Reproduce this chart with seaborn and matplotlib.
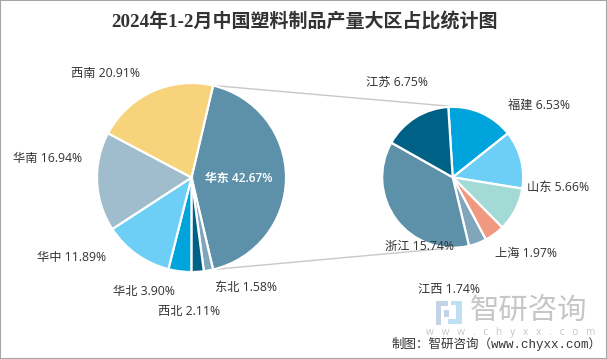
#!/usr/bin/env python3
# -*- coding: utf-8 -*-

import matplotlib
matplotlib.use("Agg")
import matplotlib.pyplot as plt
from matplotlib.patches import ConnectionPatch, Rectangle
import numpy as np
import seaborn as sns

W, H = 607, 359

# ============= data =============
left_names = ['华东', '东北', '西北', '华北', '华中', '华南', '西南']
left_values = [42.67, 1.58, 2.11, 3.90, 11.89, 16.94, 20.91]
left_colors = ['#5D90A9', '#7FA6BA', '#006187', '#00A4DC', '#6DCFF6', '#9FBDCC', '#F7D37B']

right_names = ['福建', '山东', '安徽', '上海', '江西', '浙江', '江苏']
right_values = [6.53, 5.66, 4.28, 1.97, 1.74, 15.74, 6.75]
right_colors = ['#00A4DC', '#6DCFF6', '#A3DAD6', '#F19880', '#7FA6BA', '#5D90A9', '#006187']

TITLE = '2024年1-2月中国塑料制品产量大区占比统计图'
SOURCE = '制图：智研咨询（www.chyxx.com）'

sns.set_theme(style="white")
plt.rcParams['font.family'] = ['Open Sans', 'Noto Sans CJK SC', 'DejaVu Sans']

# label left edge / middle height in pixels, hidden slices are not listed
label_pos = {
    '西南': (71, 73), '华南': (13, 158), '华中': (37, 258), '华北': (113, 291),
    '西北': (158, 311), '东北': (215, 287), '华东': (205, 178),
    '江苏': (366, 82), '福建': (508, 105), '山东': (527, 188),
    '上海': (495, 253), '江西': (418, 290), '浙江': (385, 246),
}


def px_text(fig, x, y, s, **kw):
    kw.setdefault('va', 'center')
    kw.setdefault('ha', 'left')
    return fig.text(x / W, 1 - y / H, s, **kw)


def pie_axes(fig, cx, cy, r):
    ax = fig.add_axes([(cx - r) / W, 1 - (cy + r) / H, 2 * r / W, 2 * r / H])
    return ax


def draw_pie(ax, values, colors, start):
    wedges, _ = ax.pie(values, colors=sns.color_palette(colors), startangle=start,
                       counterclock=False, radius=1,
                       wedgeprops={'edgecolor': 'white', 'linewidth': 1.6})
    ax.set_xlim(-1, 1)
    ax.set_ylim(-1, 1)
    ax.axis('off')
    for w in wedges:
        w.set_clip_on(False)
    return wedges


fig = plt.figure(figsize=(W / 100, H / 100), dpi=100, facecolor='white')

ax_l = pie_axes(fig, 191.5, 177.5, 94.5)
ax_r = pie_axes(fig, 452.7, 177.3, 70.5)
wedges_l = draw_pie(ax_l, left_values, left_colors, 76.8)
draw_pie(ax_r, right_values, right_colors, 93.6)

# 华东 wedge edges joined to the top and bottom of the second pie
big = wedges_l[0]
for ang, end in ((big.theta2, (0.05, 1.0)), (big.theta1, (0.0, -1.0))):
    start_pt = (np.cos(np.radians(ang)), np.sin(np.radians(ang)))
    con = ConnectionPatch(xyA=start_pt, coordsA=ax_l.transData,
                          xyB=end, coordsB=ax_r.transData,
                          color='#C8C8C8', linewidth=1.0, zorder=-1)
    fig.add_artist(con)

# labels
for names, values in ((left_names, left_values), (right_names, right_values)):
    for name, val in zip(names, values):
        if name not in label_pos:
            continue
        x, y = label_pos[name]
        if name == '华东':
            px_text(fig, x, y, f'{name} {val:.2f}%', fontsize=8.6, color='white', fontweight='semibold')
        else:
            px_text(fig, x, y, f'{name} {val:.2f}%', fontsize=8.8, color='#333333')

# title
px_text(fig, 304, 22, TITLE, ha='center', fontsize=13.7, fontweight='bold', color='#333333',
        family=['Liberation Serif', 'Noto Sans CJK SC'])

# watermark
for x, y, w, h, c in ((436, 301, 12, 5, '#C5D3E6'), (436, 306, 5, 19, '#C5D3E6'),
                      (444, 310, 5, 7, '#C5D3E6'), (451, 301, 11, 4, '#BFE0F2'),
                      (456, 305, 6, 14, '#BFE0F2'), (448, 319, 14, 5, '#BFE0F2')):
    fig.add_artist(Rectangle((x / W, 1 - (y + h) / H), w / W, h / H,
                             transform=fig.transFigure, facecolor=c, edgecolor='none'))
px_text(fig, 529, 311, '智研咨询', ha='center', fontsize=21.2, color='#C6C6C6')
px_text(fig, 511, 333, 'w   w   w   .   c   h   y   x   x   .   c   o   m', ha='center', fontsize=7.2, color='#C6C6C6')

# source line
px_text(fig, 392, 344, SOURCE, fontsize=9.0, color='#333333',
        family=['Liberation Mono', 'Noto Sans CJK SC'])

# outer frame
fig.add_artist(Rectangle((0, 0), 1, 1, transform=fig.transFigure, fill=False,
                         edgecolor='#A6A6A6', linewidth=1.5))

fig.savefig('out.png', dpi=100)
